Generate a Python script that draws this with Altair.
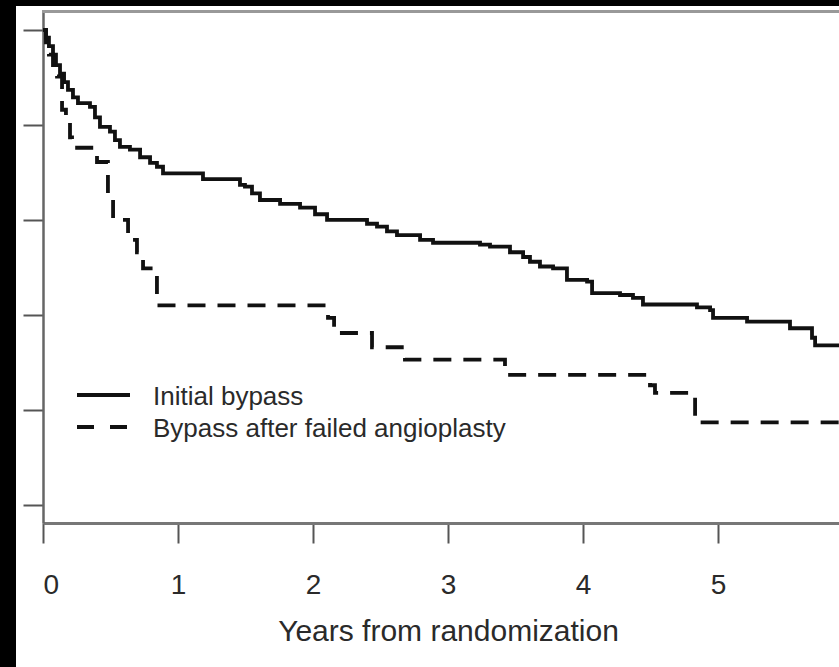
import altair as alt
import pandas as pd

# Kaplan-Meier style step curves (years, proportion)
initial_t = [0.000, 0.022, 0.044, 0.074, 0.096, 0.126, 0.156, 0.185, 0.222, 0.259,
             0.348, 0.385, 0.422, 0.496, 0.533, 0.570, 0.644, 0.719, 0.793, 0.844,
             0.889, 1.185, 1.459, 1.496, 1.548, 1.607, 1.756, 1.904, 2.015, 2.104,
             2.400, 2.474, 2.548, 2.622, 2.793, 2.889, 3.237, 3.311, 3.459, 3.556,
             3.607, 3.681, 3.778, 3.881, 4.030, 4.067, 4.274, 4.370, 4.444, 4.844,
             4.941, 4.963, 5.215, 5.533, 5.696, 5.719, 5.896]
initial_s = [1.000, 0.992, 0.983, 0.974, 0.963, 0.954, 0.945, 0.937, 0.929, 0.923,
             0.919, 0.908, 0.898, 0.893, 0.884, 0.877, 0.874, 0.866, 0.860, 0.856,
             0.849, 0.843, 0.837, 0.835, 0.828, 0.821, 0.817, 0.813, 0.806, 0.800,
             0.796, 0.793, 0.788, 0.784, 0.779, 0.776, 0.774, 0.772, 0.766, 0.761,
             0.756, 0.751, 0.749, 0.737, 0.735, 0.723, 0.721, 0.718, 0.711, 0.708,
             0.705, 0.697, 0.693, 0.686, 0.676, 0.668, 0.668]

failed_t = [0.000, 0.022, 0.044, 0.074, 0.104, 0.141, 0.170, 0.200, 0.215, 0.400,
            0.481, 0.519, 0.630, 0.696, 0.741, 0.844, 2.111, 2.156, 2.437, 2.681,
            3.422, 4.496, 4.533, 4.830, 5.896]
failed_s = [1.000, 0.987, 0.974, 0.963, 0.951, 0.916, 0.907, 0.887, 0.876, 0.861,
            0.826, 0.800, 0.779, 0.766, 0.749, 0.710, 0.697, 0.681, 0.666, 0.653,
            0.637, 0.626, 0.618, 0.587, 0.587]

x_ticks = [0, 1, 2, 3, 4, 5]
y_ticks = [0.5, 0.6, 0.7, 0.8, 0.9, 1.0]
legend_labels = ["Initial bypass", "Bypass after failed angioplasty"]
x_title = "Years from randomization"

FONT = "Liberation Sans"
W, H = 796, 513

xs = alt.Scale(domain=[0, 5.896], nice=False, zero=False)
ys = alt.Scale(domain=[0.481, 1.021], nice=False, zero=False)

x_axis = alt.Axis(values=x_ticks, format="d", title=x_title, grid=False,
                  domainColor="#777", domainWidth=3, tickSize=20, tickWidth=2,
                  tickColor="#555", labelFontSize=28, labelFont=FONT,
                  labelColor="#2a2a2a", labelPadding=28, titleFont=FONT,
                  titleFontSize=30, titleFontWeight="normal", titleColor="#2a2a2a",
                  titleX=405, titleY=117, titleBaseline="alphabetic",
                  titleAlign="center")
y_axis = alt.Axis(values=y_ticks, labels=False, title=None, grid=False,
                  domainColor="#666", domainWidth=2.5, tickSize=20, tickWidth=2,
                  tickColor="#555")

init_df = pd.DataFrame({"t": initial_t, "s": initial_s})
fail_df = pd.DataFrame({"t": failed_t, "s": failed_s})
dummy = pd.DataFrame({"a": [0]})

line1 = alt.Chart(init_df).mark_line(
    interpolate="step-after", color="#111", strokeWidth=3.8
).encode(x=alt.X("t:Q", scale=xs, axis=x_axis), y=alt.Y("s:Q", scale=ys, axis=y_axis))

line2 = alt.Chart(fail_df).mark_line(
    interpolate="step-after", color="#111", strokeWidth=3.8, strokeDash=[18, 12]
).encode(x=alt.X("t:Q", scale=xs), y=alt.Y("s:Q", scale=ys))

left_black = alt.Chart(dummy).mark_rect(color="black").encode(
    x=alt.value(-43), x2=alt.value(-27), y=alt.value(-10), y2=alt.value(657))
top_black = alt.Chart(dummy).mark_rect(color="black").encode(
    x=alt.value(-43), x2=alt.value(W), y=alt.value(-10), y2=alt.value(-4))
top_frame = alt.Chart(dummy).mark_rule(color="#999", strokeWidth=3).encode(
    x=alt.value(-1), x2=alt.value(W), y=alt.value(1.5))

leg_solid = alt.Chart(dummy).mark_rule(color="#111", strokeWidth=3.8).encode(
    x=alt.value(34), x2=alt.value(87), y=alt.value(385))
leg_dash = alt.Chart(dummy).mark_rule(color="#111", strokeWidth=3.8, strokeDash=[17, 16]).encode(
    x=alt.value(34), x2=alt.value(87), y=alt.value(417))
leg_t1 = alt.Chart(dummy).mark_text(
    text=legend_labels[0], font=FONT, fontSize=26, color="#2a2a2a", align="left",
    baseline="alphabetic").encode(x=alt.value(110), y=alt.value(395))
leg_t2 = alt.Chart(dummy).mark_text(
    text=legend_labels[1], font=FONT, fontSize=26, color="#2a2a2a", align="left",
    baseline="alphabetic").encode(x=alt.value(110), y=alt.value(427))

chart = alt.layer(
    left_black, top_black, top_frame, line1, line2, leg_solid, leg_dash, leg_t1, leg_t2
).properties(
    width=W, height=H,
    padding={"left": 43, "top": 10, "right": 0, "bottom": 144},
    autosize=alt.AutoSizeParams(type="none"),
    background="white",
).configure_view(stroke=None)

chart.save("out.html", embed_options={"renderer": "svg", "actions": False})
